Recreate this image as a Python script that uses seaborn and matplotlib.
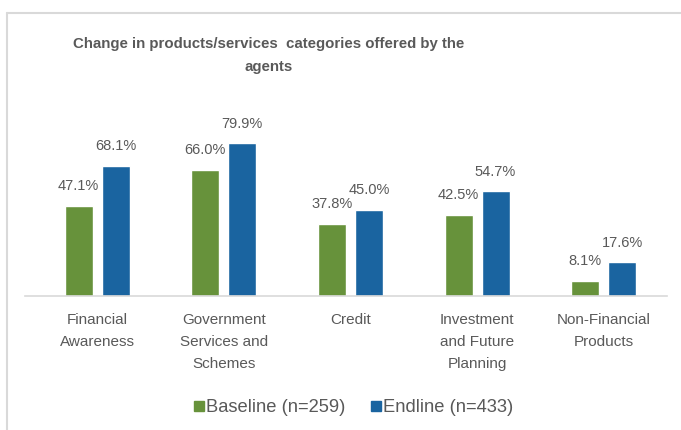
import matplotlib
matplotlib.use("Agg")
import matplotlib.pyplot as plt
from matplotlib.lines import Line2D
import seaborn as sns
import pandas as pd

categories = [
    "Financial\nAwareness",
    "Government\nServices and\nSchemes",
    "Credit",
    "Investment\nand Future\nPlanning",
    "Non-Financial\nProducts",
]
series_names = ["Baseline (n=259)", "Endline (n=433)"]
baseline = [47.1, 66.0, 37.8, 42.5, 8.1]
endline = [68.1, 79.9, 45.0, 54.7, 17.6]

df = pd.DataFrame({
    "category": categories * 2,
    "group": [series_names[0]] * len(categories) + [series_names[1]] * len(categories),
    "value": baseline + endline,
})

sns.set_theme(style="white")
plt.rcParams["font.family"] = ["Liberation Sans", "DejaVu Sans"]

W, H = 681, 430
fig = plt.figure(figsize=(W / 100, H / 100), dpi=100)
fig.patch.set_facecolor("white")

# axes placed in pixel terms: baseline at y=296, axis line from x=25 to x=667
left, right = 25, 667
bottom_px, top_px = 296, 124
ax = fig.add_axes([left / W, 1 - bottom_px / H, (right - left) / W, (bottom_px - top_px) / H])

palette = {series_names[0]: "#67923B", series_names[1]: "#1A64A0"}
sns.barplot(data=df, x="category", y="value", hue="group", palette=palette,
            width=0.584, gap=0.243, ax=ax, legend=False, saturation=1)

ax.set_ylim(0, 90)
ax.set_xlim(-0.569, 4.5)
ax.set_xlabel("")
ax.set_ylabel("")
ax.set_yticks([])
for side in ["top", "right", "left"]:
    ax.spines[side].set_visible(False)
ax.spines["bottom"].set_color("#D9D9D9")
ax.spines["bottom"].set_linewidth(1.2)
ax.tick_params(axis="x", length=0, pad=12, labelsize=11, labelcolor="#595959")
for lbl in ax.get_xticklabels():
    lbl.set_linespacing(1.75)
    lbl.set_verticalalignment("top")

for cont in ax.containers:
    ax.bar_label(cont, fmt="%.1f%%", padding=9, fontsize=10.5, color="#595959")

# title
fig.text(269 / W, 1 - 37 / H, "Change in products/services  categories offered by the\nagents",
         ha="center", va="top", fontsize=10.8, fontweight="bold", color="#595959",
         linespacing=1.8)

# legend
handles = [Line2D([0], [0], marker="s", linestyle="", markersize=7.5,
                  markerfacecolor=palette[n], markeredgecolor=palette[n]) for n in series_names]
fig.legend(handles, series_names, loc="center", bbox_to_anchor=(353 / W, 1 - 408 / H),
           ncol=2, frameon=False, fontsize=13.2, handletextpad=0.05, columnspacing=1.3,
           labelcolor="#595959", handlelength=0.7)

# chart frame
fig.add_artist(Line2D([7 / W, 7 / W], [0, 1 - 13 / H], color="#D9D9D9", lw=1.5,
                      transform=fig.transFigure))
fig.add_artist(Line2D([7 / W, 1], [1 - 13 / H, 1 - 13 / H], color="#D9D9D9", lw=1.5,
                      transform=fig.transFigure))

fig.savefig("out.png", dpi=100, facecolor="white")
